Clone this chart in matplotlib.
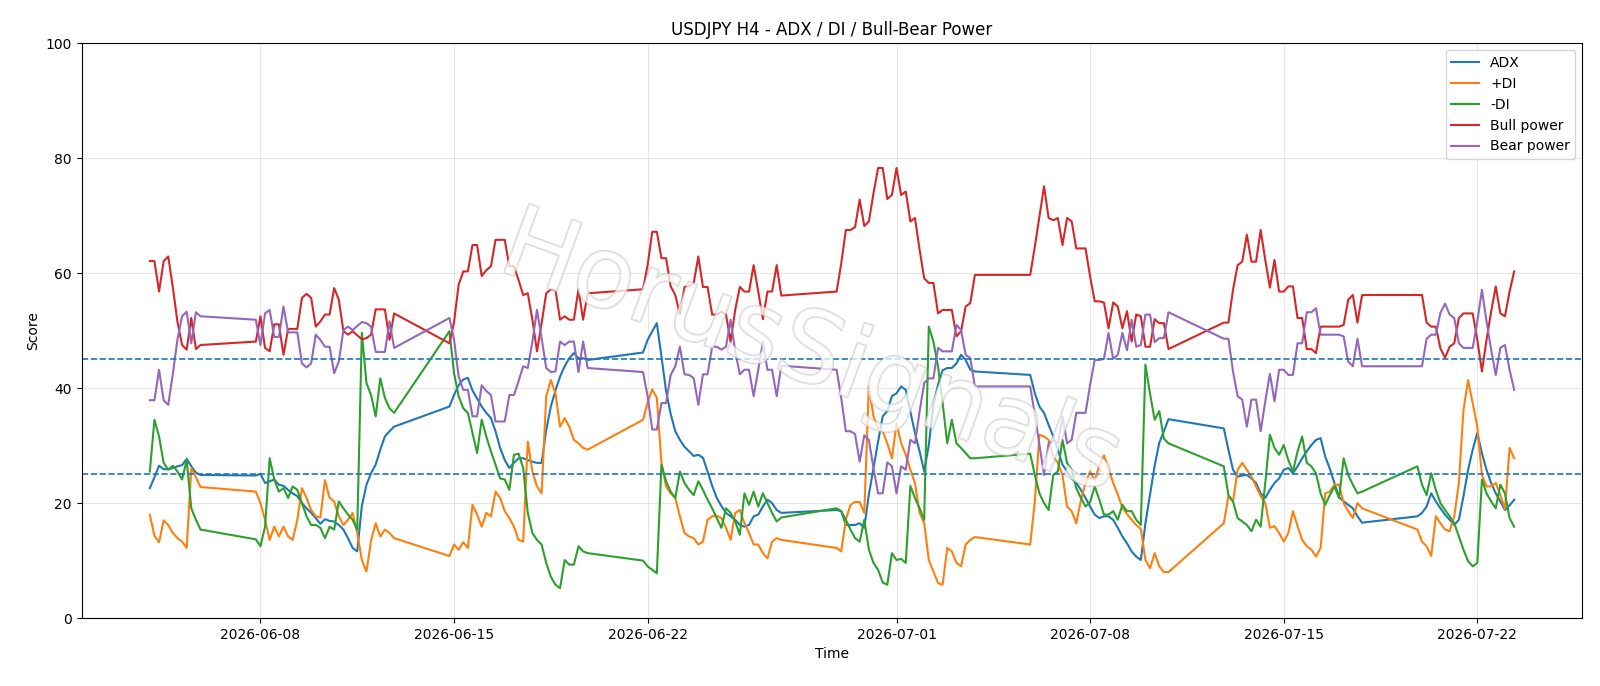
import pandas as pd
import matplotlib.pyplot as plt
import matplotlib.patheffects as pe

# H4 bars, one block per trading week (no bars over the weekends)
block_starts = ["2026-06-04 00:00", "2026-06-07 20:00", "2026-06-14 20:00", "2026-06-21 20:00",
                "2026-06-28 20:00", "2026-07-05 20:00", "2026-07-12 20:00", "2026-07-19 20:00"]
block_sizes = [12, 31, 31, 31, 31, 31, 31, 22]

adx = [
    22.6, 24.5, 26.5, 25.9, 25.9, 26.1, 26.4, 26.6, 27.7, 26.4, 25.3, 24.9,
    24.8, 25.1, 23.5, 23.8, 24.1, 23.2, 23.0, 22.3, 21.7, 21.2, 20.0, 19.1, 18.3, 17.4, 16.4, 17.2,
    16.9, 16.8, 16.2, 15.4, 13.9, 12.2, 11.6, 19.5, 23.2, 25.2, 26.7, 29.3, 31.6, 32.5, 33.3,
    36.8, 38.8, 40.5, 41.5, 41.8, 39.6, 38.2, 36.8, 35.7, 34.8, 32.5, 29.6, 27.5, 26.1, 27.0, 27.8,
    27.8, 27.5, 27.2, 27.0, 27.0, 32.7, 36.8, 39.6, 42.0, 43.8, 45.2, 46.1, 45.2, 45.2, 44.9,
    46.2, 48.4, 49.9, 51.3, 45.5, 39.5, 35.5, 32.5, 31.0, 29.8, 29.0, 28.2, 28.4, 27.9, 25.5, 23.0,
    20.9, 19.5, 18.3, 17.7, 17.1, 16.2, 15.9, 16.2, 17.7, 18.0, 19.4, 20.6, 20.0, 18.8, 18.3,
    18.8, 18.6, 16.2, 16.2, 16.2, 16.5, 15.7, 21.5, 26.1, 30.7, 35.1, 36.0, 38.6, 39.1, 40.3, 39.7,
    35.9, 32.2, 29.0, 25.5, 30.1, 37.1, 40.6, 43.1, 43.5, 43.5, 44.3, 45.8, 44.9, 43.2, 42.9,
    42.3, 39.1, 36.8, 35.7, 33.6, 31.6, 29.3, 26.7, 25.5, 24.3, 23.5, 22.3, 20.9, 19.4, 18.0, 17.4,
    17.7, 17.7, 17.1, 15.7, 14.2, 13.0, 11.6, 10.7, 10.1, 16.5, 21.5, 26.5, 30.5, 32.5, 34.6,
    33.0, 29.3, 25.8, 24.6, 24.8, 24.9, 24.3, 23.5, 21.7, 20.9, 22.3, 23.5, 24.3, 25.8, 26.1, 25.2,
    26.4, 27.8, 29.0, 30.1, 31.0, 31.3, 28.1, 26.0, 23.5, 21.0, 20.3, 19.7, 19.1, 17.7, 16.6,
    17.7, 18.3, 19.4, 21.7, 20.3, 19.1, 18.0, 17.1, 16.2, 17.1, 21.2, 25.8, 29.3, 32.2, 28.7, 25.8,
    23.5, 21.7, 20.3, 18.8, 19.6, 20.6,
]

plus_di = [
    18.0, 14.3, 13.2, 17.0, 16.2, 14.8, 13.9, 13.3, 12.2, 26.1, 24.5, 22.8,
    22.0, 20.0, 17.1, 13.6, 15.9, 14.2, 15.9, 14.2, 13.6, 17.1, 22.6, 20.9, 18.8, 17.7, 17.5, 24.0,
    20.9, 20.3, 17.7, 16.2, 17.1, 18.3, 14.8, 10.1, 8.1, 13.5, 16.5, 14.2, 15.4, 14.8, 13.9,
    10.8, 12.8, 11.9, 13.2, 12.2, 19.7, 18.0, 15.9, 18.3, 17.7, 22.0, 20.9, 18.6, 17.4, 15.9, 13.6,
    13.3, 30.7, 25.5, 22.9, 21.7, 38.6, 41.4, 39.1, 33.3, 34.8, 33.3, 31.0, 30.4, 29.6, 29.3,
    34.5, 37.5, 39.8, 38.3, 27.0, 22.9, 21.7, 20.9, 17.7, 14.8, 14.2, 13.9, 12.8, 13.3, 17.1, 17.7,
    17.8, 17.4, 15.7, 13.6, 18.3, 18.8, 16.5, 14.8, 12.8, 12.8, 11.3, 10.4, 13.3, 13.9, 13.6,
    12.2, 11.6, 17.1, 19.7, 20.2, 20.2, 18.3, 40.3, 35.1, 33.0, 32.5, 30.4, 27.8, 33.9, 30.4, 28.4,
    25.8, 23.5, 18.3, 16.5, 10.1, 8.1, 6.1, 5.8, 12.2, 11.6, 9.6, 9.0, 12.8, 13.6, 14.1,
    12.8, 20.3, 31.9, 31.6, 31.0, 28.1, 27.0, 24.9, 19.4, 18.6, 16.5, 20.5, 23.5, 25.5, 24.0, 26.5,
    28.3, 26.0, 23.5, 21.5, 19.2, 18.1, 17.1, 16.2, 15.5, 10.1, 8.7, 11.3, 9.0, 8.0, 8.0,
    16.5, 21.2, 20.3, 25.8, 27.0, 25.8, 24.6, 22.9, 21.2, 20.0, 15.7, 16.0, 14.8, 13.3, 14.8, 18.6,
    16.0, 13.6, 12.5, 11.9, 10.7, 12.2, 21.7, 22.0, 23.2, 23.2, 20.0, 18.6, 17.4, 20.0, 19.1,
    15.4, 13.3, 12.5, 10.8, 17.7, 16.5, 15.4, 15.1, 17.7, 23.5, 36.2, 41.4, 37.4, 33.3, 24.9, 22.9,
    22.9, 23.5, 21.4, 19.0, 29.6, 27.8,
]

minus_di = [
    25.5, 34.5, 31.6, 27.0, 25.8, 26.5, 25.5, 24.1, 27.5, 19.1, 17.1, 15.4,
    13.7, 12.5, 15.9, 27.8, 24.1, 22.0, 22.6, 20.9, 22.9, 22.3, 20.0, 17.7, 16.2, 16.2, 15.7, 13.9,
    15.9, 15.4, 20.3, 19.1, 18.0, 17.1, 15.4, 49.6, 40.9, 38.8, 35.1, 41.7, 38.3, 36.5, 35.7,
    49.9, 42.6, 38.6, 36.5, 35.7, 32.2, 28.7, 34.5, 31.6, 29.0, 26.7, 24.3, 24.1, 22.3, 28.4, 28.6,
    26.1, 18.3, 14.8, 13.6, 12.8, 9.6, 7.2, 5.8, 5.2, 10.1, 9.3, 9.3, 12.5, 11.6, 11.3,
    10.0, 9.0, 8.4, 7.8, 26.7, 23.8, 22.0, 20.9, 25.5, 23.5, 22.3, 21.4, 23.8, 22.3, 20.6, 19.1,
    17.4, 15.7, 19.1, 18.3, 16.8, 14.5, 21.7, 19.7, 22.0, 19.4, 21.7, 20.0, 18.3, 16.8, 17.5,
    19.1, 18.6, 17.1, 15.4, 13.9, 13.3, 17.1, 11.9, 9.6, 8.4, 6.2, 5.8, 11.3, 10.1, 10.3, 9.6,
    23.0, 20.9, 19.1, 17.1, 50.7, 48.1, 43.8, 37.4, 30.4, 34.5, 30.4, 29.6, 28.7, 27.8, 27.8,
    28.6, 24.9, 21.7, 20.0, 18.8, 24.9, 25.5, 31.0, 27.0, 25.8, 22.6, 20.9, 19.4, 20.2, 22.9, 20.6,
    18.0, 18.0, 18.6, 17.1, 19.7, 18.6, 18.6, 17.1, 16.2, 44.1, 39.0, 34.5, 36.0, 31.2, 30.4,
    26.4, 21.4, 20.3, 17.4, 16.8, 16.2, 15.1, 17.1, 15.9, 23.5, 31.9, 29.6, 28.4, 30.1, 27.5, 25.5,
    29.0, 31.6, 27.0, 26.4, 25.2, 21.7, 19.7, 21.4, 22.9, 20.9, 27.8, 24.9, 23.2, 21.7, 22.0,
    26.4, 23.2, 21.4, 25.2, 22.3, 20.0, 18.8, 17.7, 16.5, 14.2, 11.9, 9.9, 9.0, 9.6, 24.1, 21.7,
    20.3, 19.1, 23.2, 21.7, 17.4, 15.9,
]

bull_power = [
    62.1, 62.1, 56.8, 62.1, 62.9, 57.5, 51.5, 47.5, 46.7, 52.2, 46.8, 47.5,
    48.1, 52.5, 47.0, 46.4, 51.1, 51.1, 45.8, 50.3, 50.3, 50.3, 55.7, 56.4, 55.7, 50.7, 51.6, 52.8,
    52.8, 57.4, 55.4, 49.9, 49.3, 49.9, 49.2, 48.5, 48.7, 49.3, 53.7, 53.7, 53.7, 48.4, 53.0,
    47.8, 51.5, 58.0, 60.3, 60.3, 64.9, 64.9, 59.5, 60.5, 61.2, 65.8, 65.8, 65.8, 61.2, 61.2, 58.8,
    56.2, 56.5, 51.9, 46.4, 51.3, 56.5, 57.2, 57.1, 51.9, 52.5, 51.9, 51.9, 57.2, 51.9, 56.5,
    57.2, 61.4, 67.2, 67.2, 62.6, 62.6, 57.7, 56.2, 52.8, 57.6, 57.7, 58.3, 62.9, 57.6, 57.6, 52.8,
    52.8, 53.3, 52.8, 48.1, 53.6, 57.6, 56.8, 56.8, 61.4, 56.8, 52.0, 56.8, 56.8, 61.4, 56.1,
    56.8, 61.7, 67.5, 67.5, 68.0, 72.8, 68.2, 69.0, 73.9, 78.3, 78.3, 72.9, 73.6, 78.3, 73.6, 74.2,
    69.0, 69.6, 64.1, 59.1, 58.3, 58.3, 53.0, 53.6, 53.6, 53.6, 49.0, 49.9, 54.2, 54.8, 59.7,
    59.7, 64.6, 69.9, 75.1, 69.6, 69.2, 69.6, 64.9, 69.6, 69.0, 64.3, 64.3, 64.3, 59.4, 55.1, 55.1,
    54.9, 50.4, 54.9, 54.2, 50.4, 53.4, 48.1, 52.8, 52.5, 47.2, 47.2, 52.0, 51.3, 51.3, 46.8,
    51.4, 51.4, 57.1, 61.4, 62.0, 66.7, 62.0, 62.0, 67.5, 62.3, 57.5, 62.3, 56.8, 56.8, 57.7, 57.7,
    52.2, 52.2, 46.8, 46.8, 46.1, 50.7, 50.7, 50.7, 50.7, 50.7, 51.0, 55.4, 56.2, 51.4, 56.2,
    56.2, 56.2, 51.4, 50.7, 50.7, 46.9, 45.3, 47.2, 47.8, 52.2, 53.0, 53.0, 53.0, 48.4, 42.9, 48.4,
    53.3, 57.7, 53.0, 52.5, 56.8, 60.3,
]

bear_power = [
    37.9, 37.9, 43.2, 37.9, 37.1, 42.5, 48.5, 52.5, 53.3, 47.8, 53.2, 52.5,
    51.9, 47.5, 53.0, 53.6, 48.9, 48.9, 54.2, 49.7, 49.7, 49.7, 44.3, 43.6, 44.3, 49.3, 48.4, 47.2,
    47.2, 42.6, 44.6, 50.1, 50.7, 50.1, 50.8, 51.5, 51.3, 50.7, 46.3, 46.3, 46.3, 51.6, 47.0,
    52.2, 48.5, 42.0, 39.7, 39.7, 35.1, 35.1, 40.5, 39.5, 38.8, 34.2, 34.2, 34.2, 38.8, 38.8, 41.2,
    43.8, 43.5, 48.1, 53.6, 48.7, 43.5, 42.8, 42.9, 48.1, 47.5, 48.1, 48.1, 42.8, 48.1, 43.5,
    42.8, 38.6, 32.8, 32.8, 37.4, 37.4, 42.3, 43.8, 47.2, 42.4, 42.3, 41.7, 37.1, 42.4, 42.4, 47.2,
    47.2, 46.7, 47.2, 51.9, 46.4, 42.4, 43.2, 43.2, 38.6, 43.2, 48.0, 43.2, 43.2, 38.6, 43.9,
    43.2, 38.3, 32.5, 32.5, 32.0, 27.2, 31.8, 31.0, 26.1, 21.7, 21.7, 27.1, 26.4, 21.7, 26.4, 25.8,
    31.0, 30.4, 35.9, 40.9, 41.7, 41.7, 47.0, 46.4, 46.4, 46.4, 51.0, 50.1, 45.8, 45.2, 40.3,
    40.3, 35.4, 30.1, 24.9, 30.4, 30.8, 30.4, 35.1, 30.4, 31.0, 35.7, 35.7, 35.7, 40.6, 44.9, 44.9,
    45.1, 49.6, 45.1, 45.8, 49.6, 46.6, 51.9, 47.2, 47.5, 52.8, 52.8, 48.0, 48.7, 48.7, 53.2,
    48.6, 48.6, 42.9, 38.6, 38.0, 33.3, 38.0, 38.0, 32.5, 37.7, 42.5, 37.7, 43.2, 43.2, 42.3, 42.3,
    47.8, 47.8, 53.2, 53.2, 53.9, 49.3, 49.3, 49.3, 49.3, 49.3, 49.0, 44.6, 43.8, 48.6, 43.8,
    43.8, 43.8, 48.6, 49.3, 49.3, 53.1, 54.7, 52.8, 52.2, 47.8, 47.0, 47.0, 47.0, 51.6, 57.1, 51.6,
    46.7, 42.3, 47.0, 47.5, 43.2, 39.7,
]

# build the time axis from the weekly blocks
blocks = [pd.date_range(s, periods=n, freq="4h") for s, n in zip(block_starts, block_sizes)]
times = blocks[0].append(blocks[1:])

fig, ax = plt.subplots(figsize=(16, 6.86), dpi=100)
ax.plot(times, adx, label="ADX")
ax.plot(times, plus_di, label="+DI")
ax.plot(times, minus_di, label="-DI")
ax.plot(times, bull_power, label="Bull power")
ax.plot(times, bear_power, label="Bear power")

# trend strength levels
ax.axhline(45, color="C0", linestyle="--", linewidth=1.2)
ax.axhline(25, color="C0", linestyle="--", linewidth=1.2)

ax.set_ylim(0, 100)
ax.set_title("USDJPY H4 - ADX / DI / Bull-Bear Power")
ax.set_xlabel("Time")
ax.set_ylabel("Score")
ax.grid(True, alpha=0.3)
ax.legend(loc="upper right")

# watermark
ax.text(0.486, 0.458, "HorusSignals", transform=ax.transAxes, fontsize=72,
        rotation=-20, rotation_mode="anchor", ha="center", va="center",
        color="white", alpha=0.5, zorder=10,
        path_effects=[pe.withStroke(linewidth=1.5, foreground="#b4b4b4")])

fig.subplots_adjust(left=0.051, right=0.989, top=0.937, bottom=0.099)
fig.savefig("out.png")
